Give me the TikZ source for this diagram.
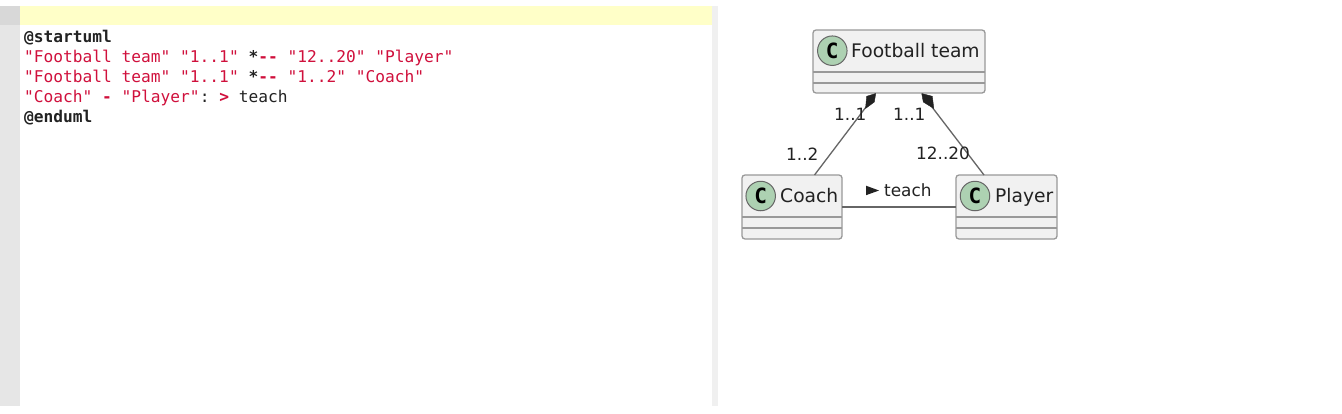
\documentclass[tikz,border=0pt]{standalone}
\usepackage{fontspec}
\setmainfont{DejaVu Sans}
\newfontfamily\codefont{DejaVu Sans Mono}
\definecolor{gutter}{HTML}{E6E6E6}
\definecolor{guttertop}{HTML}{D8D8D8}
\definecolor{band}{HTML}{FFFFC8}
\definecolor{divider}{HTML}{F0F0F0}
\definecolor{strcol}{HTML}{D0103C}
\definecolor{boxfill}{HTML}{F1F1F1}
\definecolor{boxline}{HTML}{999999}
\definecolor{circfill}{HTML}{ADD1B2}
\definecolor{umlline}{HTML}{666666}
\definecolor{umltext}{HTML}{222222}
\newcommand{\strc}[1]{\textcolor{strcol}{#1}}
\newcommand{\opc}[1]{\textcolor{strcol}{\bfseries #1}}
\tikzset{
  x=1pt,y=-1pt,
  codeline/.style={anchor=base west,inner sep=0pt,font=\codefont\frenchspacing\fontsize{16.2}{18}\selectfont,text=umltext},
  codebold/.style={codeline,font=\codefont\bfseries\fontsize{16.2}{18}\selectfont},
  umlbox/.style={draw=boxline,fill=boxfill,line width=1.3pt,rounded corners=3pt},
  sep/.style={draw=boxline,line width=1.3pt},
  circ/.style={circle,draw=umlline,fill=circfill,line width=1pt,minimum size=29.5pt,inner sep=0pt,font=\codefont\bfseries\fontsize{21}{22}\selectfont,text=black},
  title/.style={inner sep=0pt,anchor=base west,font=\fontsize{18.7}{20}\selectfont,text=umltext},
  lab/.style={inner sep=0pt,anchor=base west,font=\fontsize{16.9}{18}\selectfont,text=umltext},
  conn/.style={draw=umlline,line width=1.3pt},
  diam/.style={fill=umltext,draw=umltext,line width=0.4pt,line join=round}
}
\begin{document}
\begin{tikzpicture}
\useasboundingbox (0,0) rectangle (1342,413);
\fill[white] (0,0) rectangle (1342,413);
\fill[gutter] (0,6) rectangle (20,406);
\fill[guttertop] (0,6) rectangle (20,25);
\fill[band] (20,6) rectangle (712,25);
\fill[divider] (712,6) rectangle (718,406);
% code
\node[codebold] (c1) at (24,42) {@startuml};
\node[codeline] (c2) at (24,62) {\strc{"Football team" "1..1"} \textbf{*}\opc{--} \strc{"12..20" "Player"}};
\node[codeline] (c3) at (24,82) {\strc{"Football team" "1..1"} \textbf{*}\opc{--} \strc{"1..2" "Coach"}};
\node[codeline] (c4) at (24,102) {\strc{"Coach"} \opc{-} \strc{"Player"}: \opc{>} teach};
\node[codebold] (c5) at (24,122) {@enduml};
% boxes
\path[umlbox] (813,30) rectangle (985,93);
\path[umlbox] (742,175) rectangle (842,239);
\path[umlbox] (956,175) rectangle (1057,239);
\coordinate (ftL) at (813,72); \coordinate (ftR) at (985,72);
\coordinate (ftL2) at (813,83); \coordinate (ftR2) at (985,83);
\draw[sep] (ftL) -- (ftR); \draw[sep] (ftL2) -- (ftR2);
\coordinate (coL) at (742,217); \coordinate (coR) at (842,217);
\coordinate (coL2) at (742,228); \coordinate (coR2) at (842,228);
\draw[sep] (coL) -- (coR); \draw[sep] (coL2) -- (coR2);
\coordinate (plL) at (956,217); \coordinate (plR) at (1057,217);
\coordinate (plL2) at (956,228); \coordinate (plR2) at (1057,228);
\draw[sep] (plL) -- (plR); \draw[sep] (plL2) -- (plR2);
\node[circ] (cf) at (832.3,50.7) {C};
\node[circ] (cc) at (760.7,196) {C};
\node[circ] (cp) at (975,196) {C};
\node[title] (tf) at (851,57) {Football team};
\node[title] (tc) at (780,202) {Coach};
\node[title] (tp) at (995,202) {Player};
% connectors
\coordinate (d1b) at (866,107); \coordinate (d2b) at (932,107);
\coordinate (e1) at (814.5,175); \coordinate (e2) at (984,175);
\coordinate (h1) at (842,207); \coordinate (h2) at (956,207);
\draw[conn] (d1b) -- (e1);
\draw[conn] (d2b) -- (e2);
\draw[conn] (h1) -- (h2);
\path[diam] (875.7,93.5) -- (874.3,102) -- (865.5,108.5) -- (866.7,96.3) -- cycle;
\path[diam] (921.7,93.5) -- (932.3,96.3) -- (933.8,108.5) -- (923.3,102) -- cycle;
% labels
\node[lab] (l1) at (834,120) {1..1};
\node[lab] (l2) at (893,120) {1..1};
\node[lab] (l3) at (786,160) {1..2};
\node[lab] (l4) at (916,159) {12..20};
\path[fill=umltext] (866,185.7) -- (879,190.5) -- (866,195.2) -- cycle;
\node[lab] (l5) at (884,196) {teach};
\end{tikzpicture}
\end{document}
